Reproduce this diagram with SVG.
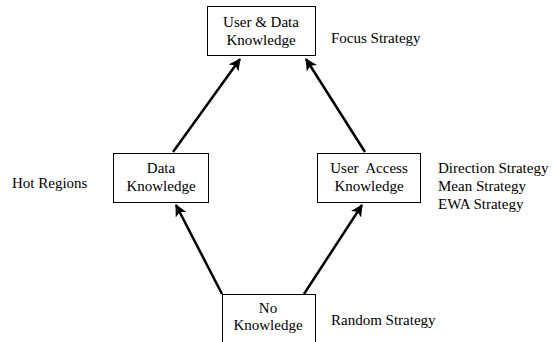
<svg xmlns="http://www.w3.org/2000/svg" width="556" height="342" viewBox="0 0 556 342" font-family="'Liberation Serif', 'Times New Roman', serif">
<style>
.box{fill:#fff;stroke:#000;stroke-width:1}
text{font-size:15px;fill:#000}
.c{text-anchor:middle}
.edge{stroke:#000;stroke-width:2.5;fill:none}
</style>
<defs>
<marker id="ah" markerWidth="12" markerHeight="12" viewBox="0 0 12 12" refX="11" refY="6" orient="auto" markerUnits="userSpaceOnUse">
<path d="M0,0 L12,6 L0,12 L3,6 Z" fill="#000"/>
</marker>
</defs>
<rect width="556" height="342" fill="#fff"/>
<g id="connectors">
<line class="edge" x1="173" y1="152" x2="240" y2="59" marker-end="url(#ah)"/>
<line class="edge" x1="365" y1="152" x2="306" y2="59" marker-end="url(#ah)"/>
<line class="edge" x1="222" y1="294" x2="176" y2="205" marker-end="url(#ah)"/>
<line class="edge" x1="304" y1="294" x2="362" y2="205" marker-end="url(#ah)"/>
</g>
<g id="user-data">
<rect class="box" x="207.5" y="6.5" width="108" height="49"/>
<text class="c" x="261" y="27">User &amp; Data</text>
<text class="c" x="261" y="45">Knowledge</text>
</g>
<g id="data">
<rect class="box" x="113.5" y="153.5" width="95" height="49"/>
<text class="c" x="161" y="173">Data</text>
<text class="c" x="161" y="191">Knowledge</text>
</g>
<g id="user-access">
<rect class="box" x="317.5" y="153.5" width="103" height="49"/>
<text class="c" x="369" y="173" xml:space="preserve">User  Access</text>
<text class="c" x="369" y="191">Knowledge</text>
</g>
<g id="no-knowledge">
<rect class="box" x="222.5" y="294.5" width="93" height="60"/>
<text class="c" x="268" y="313">No</text>
<text class="c" x="268" y="330">Knowledge</text>
</g>
<g id="labels">
<text x="331" y="43">Focus Strategy</text>
<text x="12" y="188">Hot Regions</text>
<text x="438" y="173">Direction Strategy</text>
<text x="438" y="191">Mean Strategy</text>
<text x="438" y="209">EWA Strategy</text>
<text x="331" y="325">Random Strategy</text>
</g>
</svg>
